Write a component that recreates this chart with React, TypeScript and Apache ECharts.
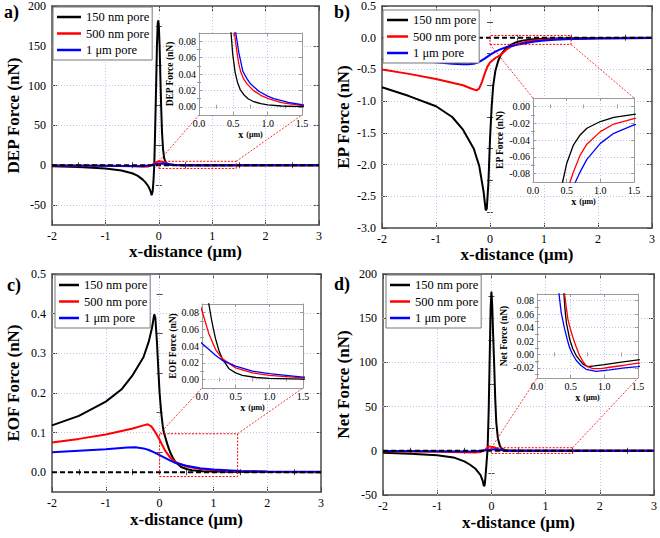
import React, { useEffect, useRef } from 'react';
import * as echarts from 'echarts';

type Pt = [number, number];

// ---------- categories / ticks ----------
const seriesNames = ['150 nm pore', '500 nm pore', '1 μm pore'];
const seriesColors = ['#000000', '#ff0000', '#0000ff'];
const xTicks = [-2, -1, 0, 1, 2, 3];
const insetXTicks = [0, 0.5, 1.0, 1.5];
const depTicks = [-50, 0, 50, 100, 150, 200];
const epTicks = [-3, -2.5, -2, -1.5, -1, -0.5, 0, 0.5];
const eofTicks = [0, 0.1, 0.2, 0.3, 0.4, 0.5];
const netTicks = [-50, 0, 50, 100, 150, 200];
const insetPosTicks = [0, 0.02, 0.04, 0.06, 0.08];
const insetNegTicks = [-0.08, -0.06, -0.04, -0.02, 0];
const insetNetTicks = [-0.02, 0, 0.02, 0.04, 0.06, 0.08];

// ---------- a) DEP force ----------
const dep150: Pt[] = [[-2,-1.3],[-1.5,-2.3],[-1,-4],[-0.7,-6.5],[-0.5,-10],[-0.4,-13],[-0.3,-18],[-0.25,-21.5],[-0.2,-26],[-0.17,-30],[-0.15,-33.5],[-0.135,-37.5],[-0.125,-38],[-0.115,-33],[-0.1,-20],[-0.085,0],[-0.07,40],[-0.05,100],[-0.035,150],[-0.02,178],[-0.01,182],[0,176],[0.015,150],[0.03,110],[0.045,72],[0.06,42],[0.08,20],[0.1,9],[0.13,3.5],[0.17,1.2],[0.22,0.45],[0.3,0.2],[0.4,0.12],[0.467,0.09],[0.49,0.065],[0.526,0.042],[0.56,0.03],[0.6,0.021],[0.66,0.014],[0.72,0.0095],[0.8,0.0062],[0.9,0.0038],[1.0,0.0024],[1.2,0.001],[1.5,0.0003],[2,0.0001],[3,0]];
const dep500: Pt[] = [[-2,-0.3],[-1,-0.6],[-0.5,-1.2],[-0.3,-1.8],[-0.2,-1.5],[-0.12,0.5],[-0.06,3.5],[0,5],[0.06,4.5],[0.12,3],[0.2,1.2],[0.3,0.4],[0.4,0.17],[0.47,0.11],[0.516,0.09],[0.55,0.068],[0.58,0.052],[0.61,0.042],[0.65,0.034],[0.7,0.028],[0.79,0.02],[0.9,0.014],[1.01,0.01],[1.2,0.005],[1.5,0.0015],[2,0.0005],[3,0.0001]];
const dep1um: Pt[] = [[-2,-0.3],[-1,-0.5],[-0.5,-0.8],[-0.3,-0.8],[-0.15,0],[0,1.8],[0.1,2],[0.2,1.2],[0.3,0.5],[0.4,0.2],[0.48,0.12],[0.536,0.09],[0.58,0.066],[0.64,0.043],[0.7,0.034],[0.75,0.028],[0.87,0.019],[1.0,0.013],[1.09,0.01],[1.3,0.0055],[1.5,0.0025],[2,0.001],[3,0.0002]];

// ---------- b) EP force ----------
const ep150: Pt[] = [[-2,-0.78],[-1.5,-0.92],[-1,-1.08],[-0.7,-1.25],[-0.5,-1.45],[-0.3,-1.75],[-0.2,-2.02],[-0.12,-2.42],[-0.08,-2.72],[-0.06,-2.7],[-0.03,-2.3],[0,-1.6],[0.03,-1.1],[0.06,-0.75],[0.1,-0.52],[0.15,-0.37],[0.2,-0.27],[0.3,-0.16],[0.4,-0.105],[0.44,-0.09],[0.5,-0.068],[0.6,-0.046],[0.7,-0.034],[0.8,-0.026],[1.0,-0.018],[1.2,-0.013],[1.5,-0.0095],[2,-0.005],[3,-0.002]];
const ep500: Pt[] = [[-2,-0.5],[-1.5,-0.57],[-1,-0.65],[-0.5,-0.75],[-0.35,-0.8],[-0.25,-0.83],[-0.2,-0.8],[-0.15,-0.7],[-0.1,-0.57],[-0.05,-0.46],[0,-0.39],[0.1,-0.32],[0.2,-0.27],[0.3,-0.19],[0.4,-0.135],[0.5,-0.105],[0.55,-0.09],[0.6,-0.078],[0.7,-0.058],[0.8,-0.045],[1.0,-0.03],[1.2,-0.021],[1.5,-0.0145],[2,-0.007],[3,-0.003]];
const ep1um: Pt[] = [[-2,-0.34],[-1.5,-0.36],[-1,-0.385],[-0.7,-0.41],[-0.5,-0.42],[-0.4,-0.42],[-0.3,-0.41],[-0.2,-0.38],[-0.1,-0.33],[0,-0.27],[0.1,-0.22],[0.2,-0.18],[0.3,-0.15],[0.4,-0.13],[0.5,-0.112],[0.63,-0.09],[0.7,-0.078],[0.8,-0.063],[1.0,-0.044],[1.2,-0.032],[1.5,-0.022],[2,-0.012],[3,-0.005]];

// ---------- c) EOF force ----------
const eof150: Pt[] = [[-2,0.118],[-1.5,0.142],[-1,0.178],[-0.7,0.21],[-0.5,0.245],[-0.3,0.29],[-0.2,0.33],[-0.14,0.365],[-0.1,0.398],[-0.08,0.39],[-0.05,0.33],[-0.02,0.25],[0,0.2],[0.03,0.15],[0.06,0.115],[0.08,0.1],[0.11,0.086],[0.14,0.072],[0.17,0.06],[0.2,0.049],[0.25,0.035],[0.3,0.025],[0.4,0.013],[0.5,0.008],[0.6,0.005],[0.8,0.0025],[1.0,0.0015],[1.5,0.0006],[2,0.0003],[3,0.0001]];
const eof500: Pt[] = [[-2,0.075],[-1.5,0.084],[-1,0.095],[-0.5,0.11],[-0.3,0.118],[-0.22,0.121],[-0.15,0.115],[-0.1,0.105],[-0.05,0.094],[0,0.082],[0.1,0.055],[0.2,0.036],[0.3,0.025],[0.5,0.014],[0.75,0.008],[1.0,0.005],[1.5,0.002],[2,0.001],[3,0.0005]];
const eof1um: Pt[] = [[-2,0.05],[-1.5,0.054],[-1,0.058],[-0.6,0.062],[-0.45,0.063],[-0.3,0.06],[-0.2,0.056],[-0.1,0.05],[0,0.043],[0.1,0.036],[0.2,0.029],[0.3,0.023],[0.5,0.016],[0.75,0.01],[1,0.007],[1.5,0.003],[2,0.002],[3,0.001]];

// ---------- d) Net force ----------
const net150: Pt[] = [[-2,-2.3],[-1.5,-3.3],[-1,-5],[-0.7,-7.5],[-0.5,-12],[-0.4,-15.5],[-0.3,-20],[-0.2,-27.5],[-0.16,-34],[-0.14,-40],[-0.125,-39],[-0.11,-30],[-0.09,-14],[-0.07,2],[-0.05,45],[-0.03,110],[-0.015,160],[0,180],[0.015,165],[0.03,135],[0.05,100],[0.07,60],[0.09,32],[0.12,14],[0.16,5],[0.2,2],[0.26,0.7],[0.33,0.25],[0.4,0.09],[0.415,0.068],[0.436,0.0475],[0.485,0.023],[0.53,0.009],[0.584,-0.002],[0.68,-0.014],[0.75,-0.018],[0.85,-0.017],[1.0,-0.015],[1.2,-0.012],[1.5,-0.008],[2,-0.004],[3,-0.001]];
const net500: Pt[] = [[-2,-0.5],[-1,-1],[-0.5,-1.5],[-0.3,-2],[-0.2,-1.5],[-0.12,1],[-0.05,5],[0.05,4],[0.12,2.2],[0.2,0.8],[0.3,0.25],[0.36,0.14],[0.41,0.09],[0.435,0.07],[0.46,0.052],[0.5,0.036],[0.535,0.025],[0.58,0.012],[0.63,-0.001],[0.68,-0.01],[0.73,-0.017],[0.83,-0.021],[0.95,-0.021],[1.08,-0.019],[1.3,-0.016],[1.5,-0.013],[2,-0.007],[3,-0.002]];
const net1um: Pt[] = [[-2,-0.3],[-1,-0.5],[-0.5,-0.8],[-0.3,-0.6],[-0.1,0.5],[0,1.8],[0.1,1.5],[0.2,0.5],[0.27,0.18],[0.327,0.09],[0.36,0.062],[0.41,0.038],[0.45,0.022],[0.485,0.01],[0.53,0],[0.584,-0.009],[0.65,-0.016],[0.73,-0.022],[0.88,-0.025],[1.08,-0.023],[1.3,-0.02],[1.5,-0.018],[2,-0.01],[3,-0.003]];

const FONT = 'Liberation Serif, Times New Roman, Times, serif';
const gridLine = { color: '#bcc5ee', type: [1, 2] as any, width: 1 };

const panels = [
  {
    label: 'a)', labelPos: [4, 3],
    grid: { left: 52, top: 6, width: 267, height: 219 },
    yMin: -75, yMax: 200, yTicks: depTicks, yDigits: 0, yName: 'DEP Force (nN)',
    xNameGap: 14, yNameGap: 30, legendPos: [53, 7], legendIcon: 24,
    data: [dep150, dep500, dep1um],
    box: { x0: 0, x1: 1.45, y0: -4, y1: 5 }, connect: 'top',
    inset: { grid: { left: 199, top: 33, width: 103, height: 82 }, yMin: -0.01, yMax: 0.09, yTicks: insetPosTicks, yName: 'DEP Force (nN)' },
  },
  {
    label: 'b)', labelPos: [334, 3],
    grid: { left: 382, top: 6, width: 270, height: 222 },
    yMin: -3, yMax: 0.5, yTicks: epTicks, yDigits: 1, yName: 'EP Force (nN)',
    xNameGap: 12, yNameGap: 30, legendPos: [383, 10], legendIcon: 21,
    data: [ep150, ep500, ep1um],
    box: { x0: 0, x1: 1.5, y0: -0.105, y1: 0.035 }, connect: 'bottom',
    inset: { grid: { left: 533, top: 98, width: 101, height: 84 }, yMin: -0.09, yMax: 0.01, yTicks: insetNegTicks, yName: 'EP Force (nN)' },
  },
  {
    label: 'c)', labelPos: [7, 276],
    grid: { left: 52, top: 274, width: 269, height: 218 },
    yMin: -0.05, yMax: 0.5, yTicks: eofTicks, yDigits: 1, yName: 'EOF Force (nN)',
    xNameGap: 19, yNameGap: 30, legendPos: [55, 275], legendIcon: 20,
    data: [eof150, eof500, eof1um],
    box: { x0: 0, x1: 1.45, y0: -0.011, y1: 0.097 }, connect: 'top',
    inset: { grid: { left: 202, top: 304, width: 101, height: 84 }, yMin: -0.01, yMax: 0.09, yTicks: insetPosTicks, yName: 'EOF Force (nN)' },
  },
  {
    label: 'd)', labelPos: [334, 275],
    grid: { left: 383, top: 274, width: 273, height: 221 },
    yMin: -50, yMax: 200, yTicks: netTicks, yDigits: 0, yName: 'Net Force (nN)',
    xNameGap: 19, yNameGap: 31, legendPos: [386, 275], legendIcon: 20,
    data: [net150, net500, net1um],
    box: { x0: 0, x1: 1.5, y0: -3, y1: 3.5 }, connect: 'top',
    inset: { grid: { left: 537, top: 294, width: 101, height: 84 }, yMin: -0.035, yMax: 0.09, yTicks: insetNetTicks, yName: 'Net Force (nN)' },
  },
];

function minorsOf(ticks: number[], min: number, max: number) {
  const step = ticks[1] - ticks[0];
  const out: number[] = [];
  const cands = [ticks[0] - step / 2, ...ticks.map((t) => t + step / 2)];
  cands.forEach((v) => {
    if (v > min + 1e-9 && v < max - 1e-9) out.push(v);
  });
  return out;
}

function buildAxes(dim: 'x' | 'y', gi: number, min: number, max: number, majors: number[], o: any) {
  const primaryPos = dim === 'x' ? 'bottom' : 'left';
  const mirrorPos = dim === 'x' ? 'top' : 'right';
  const base = { type: 'value', gridIndex: gi, min, max, z: o.z, splitLine: { show: false } };
  const line = { show: true, onZero: false, lineStyle: { color: o.frame, width: o.frameWidth } };
  const fmt = (v: number) => Number(v).toFixed(o.digits);
  const axes: any[] = [];
  axes.push({
    ...base, position: primaryPos, axisLine: line,
    axisTick: { show: true, inside: true, length: o.tickLen, customValues: majors, lineStyle: { color: o.frame, width: 1 } },
    axisLabel: {
      show: true, customValues: majors, formatter: fmt, margin: o.labelMargin,
      fontFamily: FONT, fontSize: o.labelSize, color: '#000', fontWeight: 'normal',
    },
    name: o.name, nameLocation: 'middle', nameGap: o.nameGap, nameTextStyle: o.nameStyle,
  });
  axes.push({
    ...base, position: mirrorPos, axisLine: line,
    axisTick: { show: true, inside: true, length: o.tickLen, customValues: majors, lineStyle: { color: o.frame, width: 1 } },
    axisLabel: { show: false },
  });
  const minors = minorsOf(majors, min, max);
  [primaryPos, mirrorPos].forEach((pos) => {
    axes.push({
      ...base, position: pos, axisLine: { show: false },
      axisTick: { show: true, inside: true, length: o.minorLen, customValues: minors, lineStyle: { color: o.frame, width: 1 } },
      axisLabel: { show: false },
    });
  });
  return axes;
}

function gridSeries(xi: number, yi: number, xs: number[], xr: number[], ys: number[], yr: number[], z: number) {
  const inside = (v: number, r: number[]) => v > r[0] + 1e-9 && v < r[1] - 1e-9;
  return {
    type: 'line', name: 'gridlines', xAxisIndex: xi, yAxisIndex: yi, data: [], z, silent: true,
    markLine: {
      silent: true, symbol: ['none', 'none'], label: { show: false }, lineStyle: gridLine, z,
      emphasis: { disabled: true },
      data: [
        ...xs.filter((v) => inside(v, xr)).map((v) => ({ xAxis: v })),
        ...ys.filter((v) => inside(v, yr)).map((v) => ({ yAxis: v })),
      ],
    },
  };
}

export default function App() {
  const ref = useRef<HTMLDivElement>(null);
  useEffect(() => {
    document.body.style.margin = '0';
    if (!ref.current) return;
    const chart = echarts.init(ref.current, null, { renderer: 'svg' });
    const grids: any[] = [];
    const xAxes: any[] = [];
    const yAxes: any[] = [];
    const series: any[] = [];
    const legends: any[] = [];
    const labelGraphics: any[] = [];
    const meta: any[] = [];

    panels.forEach((p) => {
      const gi = grids.length;
      grids.push({ ...p.grid, show: false, containLabel: false, z: 0 });
      const xi = xAxes.length;
      xAxes.push(...buildAxes('x', gi, -2, 3, xTicks, {
        z: 0, frame: '#4a4a4a', frameWidth: 1.5, digits: 0, tickLen: 5, minorLen: 3, labelSize: 12, labelMargin: 5,
        name: 'x-distance (μm)', nameGap: p.xNameGap,
        nameStyle: { fontFamily: FONT, fontWeight: 'bold', fontSize: 17, color: '#000', verticalAlign: 'top' },
      }));
      const yi = yAxes.length;
      yAxes.push(...buildAxes('y', gi, p.yMin, p.yMax, p.yTicks, {
        z: 0, frame: '#4a4a4a', frameWidth: 1.5, digits: p.yDigits, tickLen: 5, minorLen: 3, labelSize: 12, labelMargin: 6,
        name: p.yName, nameGap: p.yNameGap,
        nameStyle: { fontFamily: FONT, fontWeight: 'bold', fontSize: 17, color: '#000' },
      }));
      series.push(gridSeries(xi, yi, xTicks, [-2, 3], p.yTicks, [p.yMin, p.yMax], 1));
      p.data.forEach((d, k) => {
        series.push({
          type: 'line', name: seriesNames[k], xAxisIndex: xi, yAxisIndex: yi, data: d,
          symbol: 'none', showSymbol: false, clip: true, silent: true, z: 2,
          lineStyle: { color: seriesColors[k], width: 2 }, itemStyle: { color: seriesColors[k] },
        });
      });
      series.push({
        type: 'line', name: 'zero', xAxisIndex: xi, yAxisIndex: yi, data: [[-2, 0], [3, 0]],
        symbol: 'none', silent: true, z: 3, lineStyle: { color: '#000', width: 2, type: [5, 3] },
      });
      const b = p.box;
      series.push({
        type: 'line', name: 'box', xAxisIndex: xi, yAxisIndex: yi,
        data: [[b.x0, b.y0], [b.x1, b.y0], [b.x1, b.y1], [b.x0, b.y1], [b.x0, b.y0]],
        symbol: 'none', silent: true, z: 3, lineStyle: { color: '#ff0000', width: 1, type: [2, 1.5] },
      });
      legends.push({
        left: p.legendPos[0], top: p.legendPos[1], orient: 'vertical', data: seriesNames,
        icon: 'rect', itemWidth: p.legendIcon, itemHeight: 2.5, itemGap: 0.5, padding: [2, 3, 2, 4],
        borderColor: '#777', borderWidth: 1, backgroundColor: '#fff', selectedMode: false, z: 4,
        textStyle: { fontFamily: FONT, fontSize: 12.5, color: '#000', lineHeight: 16, fontWeight: 'normal' },
      });
      labelGraphics.push({
        type: 'text', left: p.labelPos[0], top: p.labelPos[1], z: 20,
        style: { text: p.label, font: 'bold 18px ' + FONT, fill: '#000' },
      });

      // inset
      const ins = p.inset;
      const ig = grids.length;
      grids.push({ ...ins.grid, show: true, backgroundColor: '#ffffff', borderWidth: 0, z: 10 });
      const ixi = xAxes.length;
      xAxes.push(...buildAxes('x', ig, 0, 1.5, insetXTicks, {
        z: 11, frame: '#9a9a9a', frameWidth: 1, digits: 1, tickLen: 3, minorLen: 2, labelSize: 10, labelMargin: 3,
        name: '{b|x} {s|(μm)}', nameGap: 12,
        nameStyle: { verticalAlign: 'top', rich: { b: { fontFamily: FONT, fontWeight: 'bold', fontSize: 10, color: '#000' }, s: { fontFamily: FONT, fontWeight: 'bold', fontSize: 8, color: '#000' } } },
      }));
      const iyi = yAxes.length;
      yAxes.push(...buildAxes('y', ig, ins.yMin, ins.yMax, ins.yTicks, {
        z: 11, frame: '#9a9a9a', frameWidth: 1, digits: 2, tickLen: 3, minorLen: 2, labelSize: 10, labelMargin: 3,
        name: ins.yName, nameGap: 23,
        nameStyle: { fontFamily: FONT, fontWeight: 'bold', fontSize: 9.5, color: '#000' },
      }));
      series.push(gridSeries(ixi, iyi, insetXTicks, [0, 1.5], ins.yTicks, [ins.yMin, ins.yMax], 11));
      p.data.forEach((d, k) => {
        series.push({
          type: 'line', name: seriesNames[k], xAxisIndex: ixi, yAxisIndex: iyi, data: d,
          symbol: 'none', showSymbol: false, clip: true, silent: true, z: 12,
          lineStyle: { color: seriesColors[k], width: 1.3 }, itemStyle: { color: seriesColors[k] },
        });
      });
      meta.push({ xi, yi, ixi, iyi, p });
    });

    chart.setOption({
      animation: false,
      backgroundColor: '#ffffff',
      textStyle: { fontFamily: FONT },
      grid: grids, xAxis: xAxes, yAxis: yAxes, series, legend: legends,
      graphic: { elements: labelGraphics },
    });

    const connectors: any[] = [];
    meta.forEach((m) => {
      const b = m.p.box;
      const ins = m.p.inset;
      const rectY = m.p.connect === 'top' ? b.y1 : b.y0;
      const insY = m.p.connect === 'top' ? ins.yMin : ins.yMax;
      [[b.x0, 0], [b.x1, 1.5]].forEach(([rx, ix]) => {
        const a = chart.convertToPixel({ xAxisIndex: m.xi, yAxisIndex: m.yi } as any, [rx, rectY]) as number[];
        const c = chart.convertToPixel({ xAxisIndex: m.ixi, yAxisIndex: m.iyi } as any, [ix, insY]) as number[];
        connectors.push({
          type: 'line', z: 5, silent: true,
          shape: { x1: a[0], y1: a[1], x2: c[0], y2: c[1] },
          style: { stroke: '#ff0000', lineWidth: 0.8, lineDash: [2, 1.5] },
        });
      });
    });
    chart.setOption({ graphic: { elements: [...labelGraphics, ...connectors] } });

    return () => chart.dispose();
  }, []);
  return <div ref={ref} style={{ width: 660, height: 538 }} />;
}
